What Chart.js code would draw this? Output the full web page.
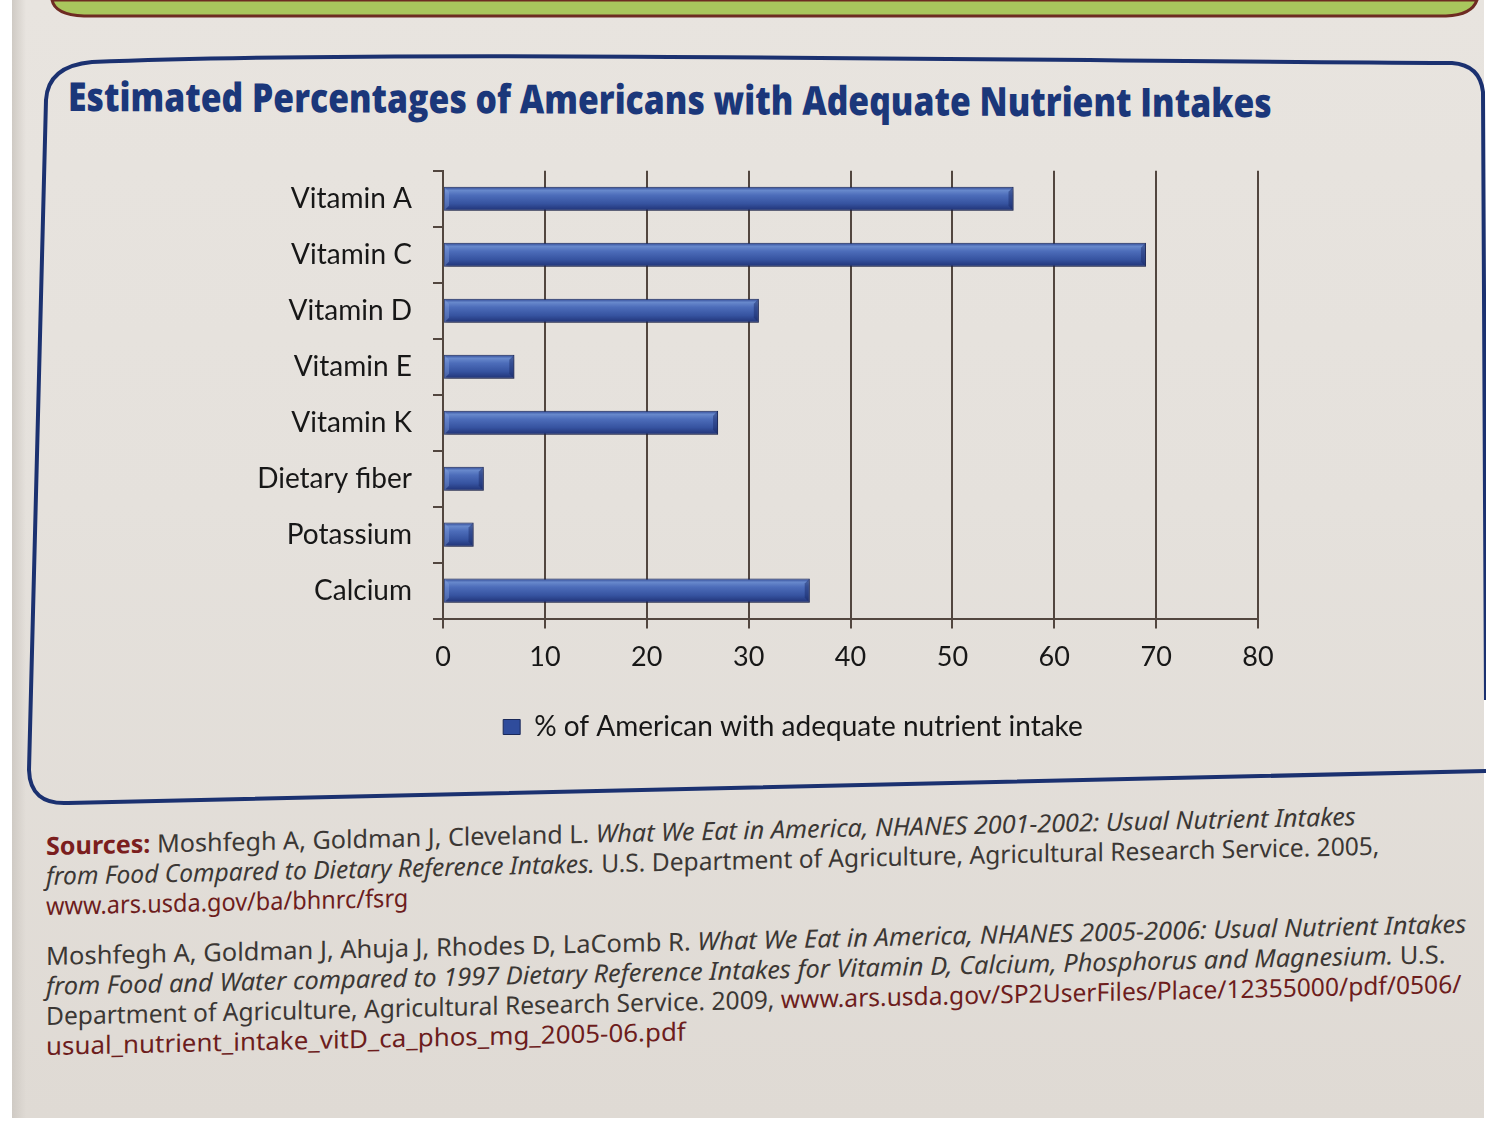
<!DOCTYPE html>
<html lang="en">
<head>
<meta charset="UTF-8" />
<title>Estimated Percentages of Americans with Adequate Nutrient Intakes</title>
<script src="https://cdn.jsdelivr.net/npm/chart.js"></script>
<style>
  html, body { margin: 0; padding: 0; background: #fff; }
  body { width: 1486px; height: 1123px; position: relative; overflow: hidden; }
  #page {
    position: absolute; left: 12px; top: 0; width: 1472px; height: 1118px;
    background: linear-gradient(180deg, #e8e4df 0%, #e5e1dc 45%, #dfdad4 100%);
  }
  #page::before {
    content: ""; position: absolute; left: 0; top: 0; bottom: 0; width: 14px;
    background: linear-gradient(90deg, #cfcac4, rgba(232,228,223,0));
  }
  #frame { position: absolute; left: 0; top: 0; }
  #title {
    position: absolute; left: 68px; top: 74px;
    font: 800 40px/44px "Open Sans", sans-serif; color: #1b377a;
    white-space: nowrap; width: max-content;
    transform-origin: left top;
  }
  #chartBox { position: absolute; left: 230px; top: 133px; width: 1126px; height: 628px; }
  #sources {
    position: absolute; left: 46px; top: 830px;
    transform: skewY(-1.3deg); transform-origin: left top;
    font-family: "Noto Sans", sans-serif; font-size: 25px; color: #3b3734;
  }
  .ln { display: block; width: max-content; white-space: nowrap; line-height: 30px; height: 30px; transform-origin: left top; }
  .gap { margin-top: 20px; }
  .src { font-weight: 700; color: #7b1e1e; }
  .url { color: #6d1d1d; }
</style>
</head>
<body>
<div id="page"></div>

<svg id="frame" width="1486" height="1123">
  <path d="M52 0 Q55 15 84 16 L1446 16 Q1472 15 1477 0 Z" fill="#a9c65d" stroke="#6e2b22" stroke-width="3"/>
  <path d="M1486 771 L68 803 Q30 805 29 770 L46 100 Q48 66 92 62 C400 50 900 60 1452 63 Q1480 65 1483 92 L1486 700"
        fill="none" stroke="#1b3170" stroke-width="4"/>
</svg>

<div id="title" data-w="1204">Estimated Percentages of Americans with Adequate Nutrient Intakes</div>

<div id="chartBox"><canvas id="nutrientChart" width="1126" height="628"></canvas></div>

<div id="sources">
  <span class="ln" data-w="1310"><span class="src">Sources:</span> Moshfegh A, Goldman J, Cleveland L. <i>What We Eat in America, NHANES 2001-2002: Usual Nutrient Intakes</i></span>
  <span class="ln" data-w="1333"><i>from Food Compared to Dietary Reference Intakes.</i> U.S. Department of Agriculture, Agricultural Research Service. 2005,</span>
  <span class="ln url" data-w="362">www.ars.usda.gov/ba/bhnrc/fsrg</span>
  <span class="ln gap" data-w="1420">Moshfegh A, Goldman J, Ahuja J, Rhodes D, LaComb R. <i>What We Eat in America, NHANES 2005-2006: Usual Nutrient Intakes</i></span>
  <span class="ln" data-w="1400"><i>from Food and Water compared to 1997 Dietary Reference Intakes for Vitamin D, Calcium, Phosphorus and Magnesium.</i> U.S.</span>
  <span class="ln" data-w="1415">Department of Agriculture, Agricultural Research Service. 2009, <span class="url">www.ars.usda.gov/SP2UserFiles/Place/12355000/pdf/0506/</span></span>
  <span class="ln url" data-w="640">usual_nutrient_intake_vitD_ca_phos_mg_2005-06.pdf</span>
</div>

<script>
  const nutrients = ['Vitamin A', 'Vitamin C', 'Vitamin D', 'Vitamin E', 'Vitamin K', 'Dietary fiber', 'Potassium', 'Calcium'];
  const adequatePct = [56, 69, 31, 7, 27, 4, 3, 36];
  const xTicks = [0, 10, 20, 30, 40, 50, 60, 70, 80];
  const seriesLabel = '% of American with adequate nutrient intake';

  // squeeze the condensed-looking text lines to their set widths
  document.querySelectorAll('[data-w]').forEach(el => {
    const s = el.dataset.w / el.offsetWidth;
    el.style.transform = (el.id === 'title' ? 'skewY(0.3deg) ' : '') + `scaleX(${s})`;
  });

  const axisColor = '#52463f';
  const textColor = '#171717';

  // rounded-tube look: vertical gradient per bar
  function barFill(c) {
    const chart = c.chart;
    if (c.type !== 'data' || !chart.chartArea) return '#2f4c9c';
    const y = chart.scales.y.getPixelForValue(c.dataIndex);
    const h = chart.scales.y.height / nutrients.length * 0.43;
    const g = chart.ctx.createLinearGradient(0, y - h / 2, 0, y + h / 2);
    g.addColorStop(0, '#2a4290');
    g.addColorStop(0.15, '#6889cc');
    g.addColorStop(0.35, '#4d6dba');
    g.addColorStop(0.7, '#3653a0');
    g.addColorStop(1, '#1f3174');
    return g;
  }

  const barDepth = {
    id: 'barDepth',
    beforeDatasetsDraw(chart) {
      const c = chart.ctx;
      c.save();
      c.shadowColor = 'rgba(30,25,40,0.35)';
      c.shadowBlur = 4;
      c.shadowOffsetX = 2;
      c.shadowOffsetY = 3;
    },
    afterDatasetsDraw(chart) {
      const c = chart.ctx;
      c.restore();
      // bevelled ends
      chart.getDatasetMeta(0).data.forEach(bar => {
        const { x, y, base, height } = bar.getProps(['x', 'y', 'base', 'height'], true);
        const top = y - height / 2, bot = y + height / 2, b = 5;
        c.save();
        c.fillStyle = 'rgba(25,40,100,0.45)';
        c.beginPath();
        c.moveTo(x - b, top + b); c.lineTo(x, top); c.lineTo(x, bot); c.lineTo(x - b, bot - b);
        c.closePath(); c.fill();
        c.fillStyle = 'rgba(140,170,230,0.35)';
        c.beginPath();
        c.moveTo(base, top); c.lineTo(base + b, top + b); c.lineTo(base + b, bot - b); c.lineTo(base, bot);
        c.closePath(); c.fill();
        c.restore();
      });
    }
  };

  const ctx = document.getElementById('nutrientChart').getContext('2d');
  new Chart(ctx, {
    type: 'bar',
    data: {
      labels: nutrients,
      datasets: [{
        label: seriesLabel,
        data: adequatePct,
        backgroundColor: barFill,
        borderColor: '#1a2859',
        borderWidth: 1,
        borderSkipped: false,
        barPercentage: 0.43,
        categoryPercentage: 1
      }]
    },
    options: {
      indexAxis: 'y',
      responsive: false,
      animation: false,
      layout: { padding: { top: 20, right: 0, bottom: 10, left: 0 } },
      plugins: {
        tooltip: { enabled: false },
        legend: {
          position: 'bottom',
          labels: {
            font: { family: 'Lato', size: 28 },
            color: textColor,
            boxWidth: 17,
            boxHeight: 15,
            padding: 10,
            generateLabels(chart) {
              const items = Chart.defaults.plugins.legend.labels.generateLabels(chart);
              items.forEach(it => { it.fillStyle = '#2f4c9c'; it.strokeStyle = '#1a2859'; it.lineWidth = 1; });
              return items;
            }
          }
        }
      },
      scales: {
        x: {
          min: 0,
          max: 80,
          afterBuildTicks: s => { s.ticks = xTicks.map(v => ({ value: v })); },
          afterFit: s => { s.height += 18; },
          ticks: { font: { family: 'Lato', size: 27 }, color: textColor, padding: 12 },
          grid: { color: axisColor, lineWidth: 2, tickLength: 10 },
          border: { color: axisColor, width: 2 }
        },
        y: {
          afterFit: s => { s.width = 213; },
          ticks: { font: { family: 'Lato', size: 28 }, color: textColor, padding: 21 },
          grid: { drawOnChartArea: false, color: axisColor, lineWidth: 2, tickLength: 10 },
          border: { color: axisColor, width: 2 }
        },
        // empty right-hand strip so the legend stays centred on the whole canvas
        yRight: {
          type: 'category',
          position: 'right',
          afterFit: s => { s.width = 98; },
          ticks: { display: false },
          grid: { display: false },
          border: { display: false }
        }
      }
    },
    plugins: [barDepth]
  });
</script>
</body>
</html>
